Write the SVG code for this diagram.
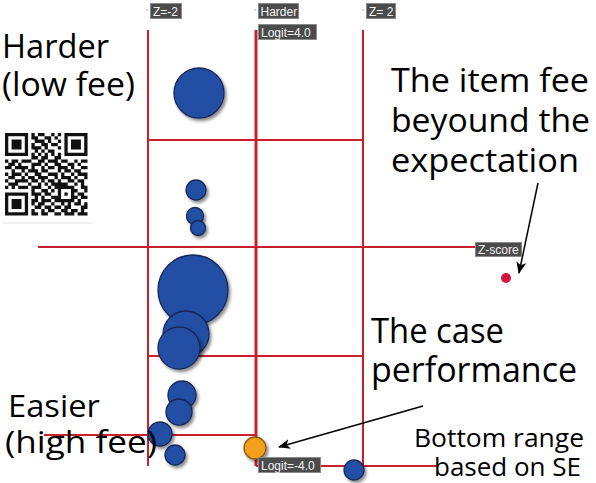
<svg xmlns="http://www.w3.org/2000/svg" width="596" height="483" viewBox="0 0 596 483">
<defs>
<style>
.grid{stroke:#c8202c;stroke-width:2;fill:none}
.lbl rect{fill:#4b4b4b;stroke:#8a8a8a;stroke-width:1}
.lbl text{fill:#f4f4f4;font-family:"Liberation Sans",Arial,sans-serif;font-size:12px}
.big{font-family:"Open Sans","Noto Sans",sans-serif;fill:#000}
.bub{fill:#2450a4;stroke:#17285a;stroke-width:1.3;filter:url(#sh)}
.arrow{stroke:#000;stroke-width:1.5;fill:none;marker-end:url(#ah)}
</style>
<filter id="sh" x="-30%" y="-30%" width="170%" height="170%">
<feDropShadow dx="2" dy="2.5" stdDeviation="1.8" flood-color="#000" flood-opacity="0.45"/>
</filter>
<marker id="ah" viewBox="0 0 12 10" refX="11" refY="5" markerWidth="12" markerHeight="10" markerUnits="userSpaceOnUse" orient="auto">
<path d="M0,0 L12,5 L0,10 L3,5 z" fill="#000"/>
</marker>
</defs>
<rect width="596" height="483" fill="#fff"/>

<g id="grid">
<line class="grid" x1="148" y1="30" x2="148" y2="466"/>
<line class="grid" x1="256" y1="30" x2="256" y2="466" style="stroke-width:3"/>
<line class="grid" x1="363" y1="30" x2="363" y2="466"/>
<line class="grid" x1="148" y1="140" x2="363" y2="140"/>
<line class="grid" x1="38" y1="247" x2="476" y2="247"/>
<line class="grid" x1="148" y1="356" x2="363" y2="356"/>
<line class="grid" x1="44" y1="435" x2="256" y2="435"/>
<line class="grid" x1="256" y1="466" x2="438" y2="466"/>
</g>

<g id="qr" transform="translate(5,133) scale(3.3)">
<path fill="#111" d="M0 0h7v1h-7zM8 0h1v1h-1zM10 0h2v1h-2zM14 0h1v1h-1zM16 0h1v1h-1zM18 0h7v1h-7z
M0 1h1v1h-1zM6 1h1v1h-1zM8 1h2v1h-2zM12 1h2v1h-2zM15 1h1v1h-1zM18 1h1v1h-1zM24 1h1v1h-1z
M0 2h1v1h-1zM2 2h3v1h-3zM6 2h1v1h-1zM9 2h3v1h-3zM13 2h1v1h-1zM16 2h1v1h-1zM18 2h1v1h-1zM20 2h3v1h-3zM24 2h1v1h-1z
M0 3h1v1h-1zM2 3h3v1h-3zM6 3h1v1h-1zM8 3h1v1h-1zM11 3h2v1h-2zM14 3h2v1h-2zM18 3h1v1h-1zM20 3h3v1h-3zM24 3h1v1h-1z
M0 4h1v1h-1zM2 4h3v1h-3zM6 4h1v1h-1zM8 4h3v1h-3zM12 4h1v1h-1zM16 4h1v1h-1zM18 4h1v1h-1zM20 4h3v1h-3zM24 4h1v1h-1z
M0 5h1v1h-1zM6 5h1v1h-1zM9 5h1v1h-1zM11 5h1v1h-1zM13 5h2v1h-2zM18 5h1v1h-1zM24 5h1v1h-1z
M0 6h7v1h-7zM8 6h1v1h-1zM10 6h1v1h-1zM12 6h1v1h-1zM14 6h1v1h-1zM16 6h1v1h-1zM18 6h7v1h-7z
M8 7h2v1h-2zM11 7h2v1h-2zM15 7h2v1h-2z
M0 8h1v1h-1zM2 8h2v1h-2zM5 8h3v1h-3zM10 8h2v1h-2zM13 8h3v1h-3zM17 8h2v1h-2zM21 8h1v1h-1zM23 8h2v1h-2z
M1 9h2v1h-2zM4 9h1v1h-1zM8 9h3v1h-3zM12 9h1v1h-1zM15 9h2v1h-2zM19 9h2v1h-2zM22 9h1v1h-1z
M0 10h2v1h-2zM3 10h4v1h-4zM8 10h1v1h-1zM11 10h1v1h-1zM13 10h2v1h-2zM16 10h3v1h-3zM20 10h1v1h-1zM23 10h2v1h-2z
M2 11h1v1h-1zM5 11h1v1h-1zM7 11h3v1h-3zM11 11h2v1h-2zM16 11h1v1h-1zM18 11h2v1h-2zM21 11h2v1h-2z
M0 12h1v1h-1zM2 12h3v1h-3zM6 12h1v1h-1zM9 12h2v1h-2zM13 12h3v1h-3zM17 12h1v1h-1zM20 12h1v1h-1zM22 12h3v1h-3z
M1 13h2v1h-2zM5 13h1v1h-1zM7 13h2v1h-2zM10 13h3v1h-3zM15 13h1v1h-1zM17 13h3v1h-3zM21 13h1v1h-1zM24 13h1v1h-1z
M0 14h1v1h-1zM3 14h4v1h-4zM8 14h2v1h-2zM11 14h1v1h-1zM13 14h2v1h-2zM16 14h1v1h-1zM19 14h2v1h-2zM22 14h2v1h-2z
M1 15h3v1h-3zM7 15h1v1h-1zM10 15h1v1h-1zM12 15h1v1h-1zM14 15h5v1h-5zM21 15h1v1h-1zM23 15h1v1h-1z
M0 16h1v1h-1zM2 16h1v1h-1zM4 16h3v1h-3zM8 16h3v1h-3zM13 16h1v1h-1zM15 16h6v1h-6zM23 16h2v1h-2z
M8 17h1v1h-1zM11 17h2v1h-2zM14 17h1v1h-1zM16 17h1v1h-1zM20 17h2v1h-2zM24 17h1v1h-1z
M0 18h7v1h-7zM8 18h3v1h-3zM12 18h2v1h-2zM16 18h1v1h-1zM18 18h1v1h-1zM20 18h1v1h-1zM22 18h2v1h-2z
M0 19h1v1h-1zM6 19h1v1h-1zM9 19h1v1h-1zM11 19h1v1h-1zM14 19h3v1h-3zM20 19h2v1h-2zM23 19h2v1h-2z
M0 20h1v1h-1zM2 20h3v1h-3zM6 20h1v1h-1zM8 20h2v1h-2zM11 20h3v1h-3zM15 20h6v1h-6zM22 20h1v1h-1z
M0 21h1v1h-1zM2 21h3v1h-3zM6 21h1v1h-1zM8 21h1v1h-1zM10 21h2v1h-2zM14 21h1v1h-1zM17 21h1v1h-1zM19 21h1v1h-1zM21 21h2v1h-2zM24 21h1v1h-1z
M0 22h1v1h-1zM2 22h3v1h-3zM6 22h1v1h-1zM9 22h2v1h-2zM12 22h2v1h-2zM15 22h2v1h-2zM18 22h2v1h-2zM23 22h2v1h-2z
M0 23h1v1h-1zM6 23h1v1h-1zM8 23h1v1h-1zM11 23h1v1h-1zM13 23h2v1h-2zM17 23h2v1h-2zM20 23h2v1h-2zM23 23h1v1h-1z
M0 24h7v1h-7zM8 24h2v1h-2zM11 24h2v1h-2zM15 24h2v1h-2zM18 24h3v1h-3zM22 24h3v1h-3z"/>
</g>
<line x1="3" y1="223" x2="92" y2="223" stroke="#e2e2e2" stroke-width="1"/>

<g id="bubbles">
<circle class="bub" cx="199" cy="93" r="25"/>
<circle class="bub" cx="196" cy="190" r="10"/>
<circle class="bub" cx="195" cy="216" r="8.5"/>
<circle class="bub" cx="198" cy="228" r="7.5"/>
<circle class="bub" cx="193" cy="290" r="35"/>
<circle class="bub" cx="186" cy="334" r="23"/>
<circle class="bub" cx="179" cy="348" r="21"/>
<circle class="bub" cx="182" cy="395" r="14"/>
<circle class="bub" cx="179" cy="412" r="13"/>
<circle class="bub" cx="160" cy="434" r="12"/>
<circle class="bub" cx="175" cy="455" r="10"/>
<circle class="bub" cx="354" cy="470" r="10"/>
</g>
<g id="case">
<circle cx="255" cy="448" r="11" fill="#f2a01e" stroke="#8a5a10" stroke-width="1.3" filter="url(#sh)"/>
</g>
<g id="outlier">
<circle cx="506" cy="278" r="5" fill="#d4143c"/>
</g>

<g id="connectors">
<line class="arrow" x1="538" y1="183" x2="519" y2="273"/>
<line class="arrow" x1="423" y1="406" x2="279" y2="447"/>
</g>

<g id="labels">
<g class="lbl" id="lbl-zm2"><rect x="150.5" y="3.5" width="31" height="15"/><text x="153" y="15.5">Z=-2</text></g>
<g class="lbl" id="lbl-harder"><rect x="258.5" y="3.5" width="40" height="15"/><text x="260.5" y="15.5">Harder</text></g>
<g class="lbl" id="lbl-logit4"><rect x="258.5" y="24.5" width="58" height="15"/><text x="261" y="36.5">Logit=4.0</text></g>
<g class="lbl" id="lbl-z2"><rect x="366.5" y="3.5" width="29" height="15"/><text x="369" y="15.5">Z= 2</text></g>
<g class="lbl" id="lbl-zscore"><rect x="475.5" y="242.5" width="46" height="14"/><text x="478" y="254">Z-score</text></g>
<g class="lbl" id="lbl-logitm4"><rect x="258.5" y="457.5" width="62" height="15"/><text x="261" y="469.5">Logit=-4.0</text></g>
<circle cx="147" cy="10" r="0.8" fill="#999"/>
<circle cx="255" cy="10" r="0.8" fill="#999"/>
<circle cx="363" cy="10" r="0.8" fill="#999"/>
</g>

<g id="texts">
<text class="big" x="2" y="58" font-size="32" textLength="107" lengthAdjust="spacingAndGlyphs">Harder</text>
<text class="big" x="2" y="96" font-size="32" textLength="133" lengthAdjust="spacingAndGlyphs">(low fee)</text>
<text class="big" x="391" y="92" font-size="33" textLength="198" lengthAdjust="spacingAndGlyphs">The item fee</text>
<text class="big" x="391" y="132" font-size="33" textLength="199" lengthAdjust="spacingAndGlyphs">beyound the</text>
<text class="big" x="391" y="172" font-size="33" textLength="188" lengthAdjust="spacingAndGlyphs">expectation</text>
<text class="big" x="371" y="343" font-size="34" textLength="133" lengthAdjust="spacingAndGlyphs">The case</text>
<text class="big" x="371" y="382" font-size="34" textLength="206" lengthAdjust="spacingAndGlyphs">performance</text>
<text class="big" x="8" y="417" font-size="31" textLength="92" lengthAdjust="spacingAndGlyphs">Easier</text>
<text class="big" x="5" y="453" font-size="31" textLength="152" lengthAdjust="spacingAndGlyphs">(high fee)</text>
<text class="big" x="414" y="447" font-size="25.5" textLength="170" lengthAdjust="spacingAndGlyphs">Bottom range</text>
<text class="big" x="434" y="476" font-size="25.5" textLength="147" lengthAdjust="spacingAndGlyphs">based on SE</text>
</g>
</svg>
